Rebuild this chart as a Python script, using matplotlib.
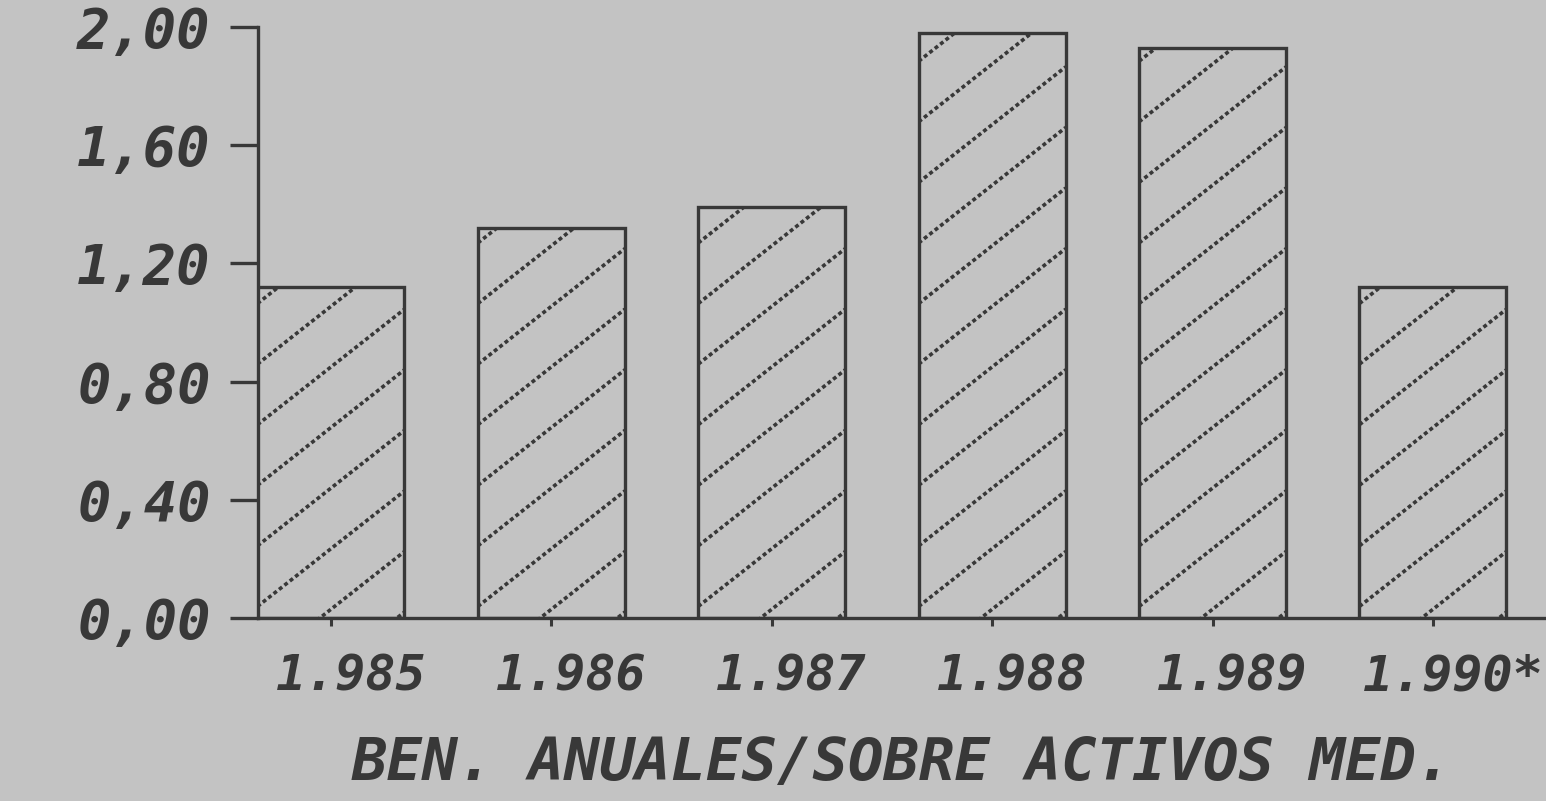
import numpy as np
import matplotlib
matplotlib.use("Agg")
import matplotlib.pyplot as plt
from matplotlib.transforms import ScaledTranslation

# data
years = ["1.985", "1.986", "1.987", "1.988", "1.989", "1.990*"]
values = [1.12, 1.32, 1.39, 1.98, 1.93, 1.12]
yticks = [0.0, 0.4, 0.8, 1.2, 1.6, 2.0]
ytick_labels = ["0,00", "0,40", "0,80", "1,20", "1,60", "2,00"]
xlabel = "BEN. ANUALES/SOBRE ACTIVOS MED."

paper = "#c3c3c3"
ink = "#383838"
font = "DejaVu Sans Mono"

fig = plt.figure(figsize=(15.46, 8.01), dpi=100, facecolor=paper)
ax = fig.add_axes([258 / 1546, 1 - 618 / 801, 1288 / 1546, 591 / 801])
ax.set_facecolor(paper)

x = np.arange(len(years))
width = 0.667
bars = ax.bar(x, values, width=width, color=paper, edgecolor=ink, linewidth=2.4, zorder=2)

# sparse dotted diagonal hatch, clipped to each bar
slope = 0.586
step = 0.205
for rect in bars:
    left = rect.get_x()
    h = rect.get_height()
    for y0 in np.arange(0.02 - slope * width, h, step):
        ln, = ax.plot([left, left + width], [y0, y0 + slope * width], color=ink,
                      lw=2.6, linestyle=(0, (1.1, 0.8)), zorder=3)
        ln.set_clip_path(rect)

ax.set_xlim(-0.331, 5.513)
ax.set_ylim(0, 2.0)

for side in ["top", "right"]:
    ax.spines[side].set_visible(False)
for side in ["left", "bottom"]:
    ax.spines[side].set_color(ink)
    ax.spines[side].set_linewidth(2.4)

ax.set_yticks(yticks)
ax.set_yticklabels(ytick_labels, fontsize=40, family=font, style="italic",
                   color=ink, weight="bold")
ax.tick_params(axis="y", length=20, width=2.4, color=ink, pad=14)

ax.set_xticks(x)
ax.set_xticklabels(years, fontsize=36, family=font, style="italic",
                   color=ink, weight="bold")
ax.tick_params(axis="x", length=6, width=2.2, color=ink, pad=19)
shift = ScaledTranslation(0.2, 0, fig.dpi_scale_trans)
for lbl in ax.get_xticklabels():
    lbl.set_transform(lbl.get_transform() + shift)

ax.set_xlabel(xlabel, fontsize=42.5, family=font, style="italic", color=ink,
              weight="bold", labelpad=25)

fig.savefig("out.png", dpi=100, facecolor=paper)
